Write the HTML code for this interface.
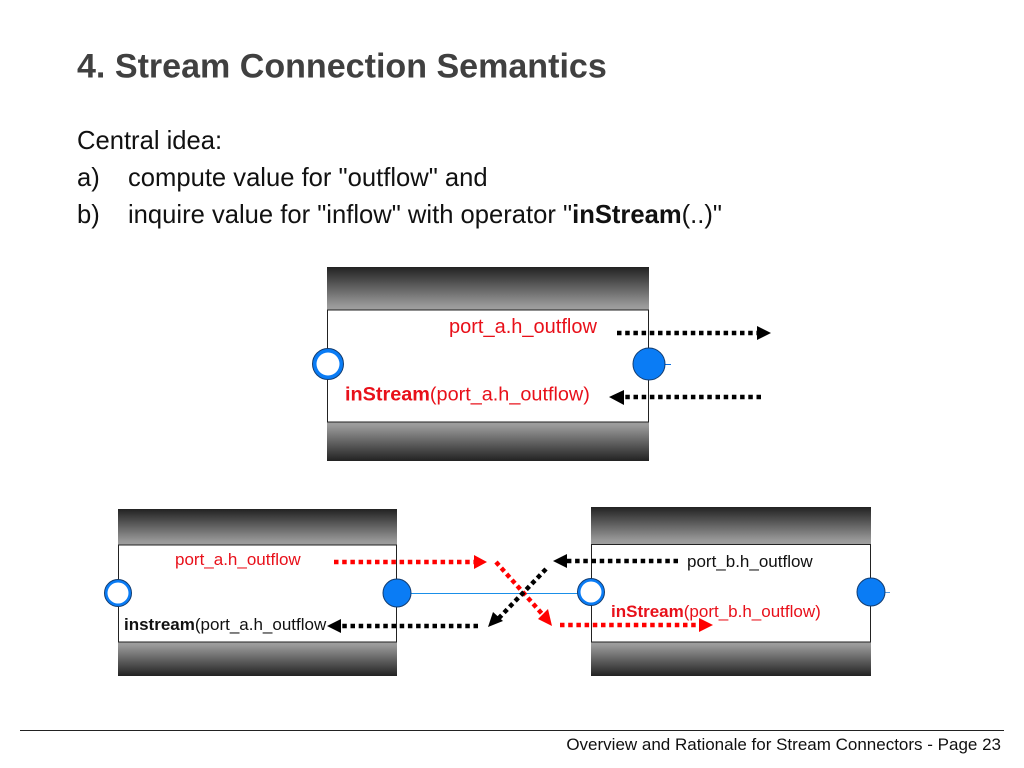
<!DOCTYPE html>
<html><head><meta charset="utf-8"><style>
html,body{margin:0;padding:0;background:#fff}
svg{display:block}
text{font-family:"Liberation Sans",sans-serif}
</style></head><body>
<svg width="1024" height="768" viewBox="0 0 1024 768" xmlns="http://www.w3.org/2000/svg">
<defs>
<linearGradient id="t" x1="0" y1="0" x2="0" y2="1"><stop offset="0" stop-color="#222"/><stop offset="0.9" stop-color="#999"/><stop offset="1" stop-color="#a0a0a0"/></linearGradient>
<linearGradient id="b" x1="0" y1="0" x2="0" y2="1"><stop offset="0" stop-color="#a0a0a0"/><stop offset="0.1" stop-color="#999"/><stop offset="1" stop-color="#222"/></linearGradient>
</defs>
<text x="77" y="77.5" font-size="34.05" font-weight="bold" fill="#404040">4. Stream Connection Semantics</text>
<text x="77" y="149" font-size="25.6" fill="#111">Central idea:</text>
<text x="77" y="186" font-size="25.6" fill="#111">a)</text>
<text x="128" y="186" font-size="25.6" fill="#111">compute value for "outflow" and</text>
<text x="77" y="223" font-size="25.6" fill="#111">b)</text>
<text x="128" y="223" font-size="25.6" fill="#111">inquire value for "inflow" with operator "<tspan font-weight="bold">inStream</tspan>(..)"</text>

<!-- top box -->
<rect x="327" y="267" width="322" height="43" fill="url(#t)"/>
<rect x="327" y="422" width="322" height="39" fill="url(#b)"/>
<rect x="327.5" y="310" width="321" height="112" fill="#fff" stroke="#222" stroke-width="1"/>
<line x1="665" y1="364.5" x2="671" y2="364.5" stroke="#0a6fe0"/>
<circle cx="328" cy="364" r="15.5" fill="#0a7cf5" stroke="#123c70" stroke-width="1"/><circle cx="328" cy="364" r="11.5" fill="#fff"/>
<circle cx="649" cy="364" r="16" fill="#0a7cf5" stroke="#123c70" stroke-width="1"/>
<text x="449" y="333" font-size="20" fill="#e8101a">port_a.h_outflow</text>
<text x="345" y="400.5" font-size="19.85" fill="#e8101a"><tspan font-weight="bold">inStream</tspan>(port_a.h_outflow)</text>
<line x1="617" y1="333" x2="758" y2="333" stroke="#000" stroke-width="4.5" stroke-dasharray="4.5 3.7"/>
<polygon points="771,333 757,326 757,340" fill="#000"/>
<line x1="761" y1="397" x2="622" y2="397" stroke="#000" stroke-width="4.5" stroke-dasharray="4.5 3.7"/>
<polygon points="609,397 624,390 624,405" fill="#000"/>

<!-- left box -->
<rect x="118" y="509" width="279" height="36" fill="url(#t)"/>
<rect x="118" y="642" width="279" height="34" fill="url(#b)"/>
<rect x="118.5" y="545" width="278" height="97" fill="#fff" stroke="#222" stroke-width="1"/>
<rect x="411" y="593" width="167" height="1" fill="#1a8fe8"/>
<circle cx="118" cy="593" r="13.5" fill="#0a7cf5" stroke="#123c70" stroke-width="1"/><circle cx="118" cy="593" r="10.5" fill="#fff"/>
<circle cx="397" cy="593" r="14" fill="#0a7cf5" stroke="#123c70" stroke-width="1"/>
<text x="175" y="565" font-size="17" fill="#e8101a">port_a.h_outflow</text>
<text x="124" y="630" font-size="17" fill="#111"><tspan font-weight="bold">instream</tspan>(port_a.h_outflow</text>

<!-- right box -->
<rect x="591" y="507" width="280" height="37" fill="url(#t)"/>
<rect x="591" y="642" width="280" height="34" fill="url(#b)"/>
<rect x="591.5" y="544.5" width="279" height="97.5" fill="#fff" stroke="#222" stroke-width="1"/>
<line x1="885" y1="592.5" x2="890" y2="592.5" stroke="#5a9be0"/>
<circle cx="591" cy="592" r="13.5" fill="#0a7cf5" stroke="#123c70" stroke-width="1"/><circle cx="591" cy="592" r="10.5" fill="#fff"/>
<circle cx="871" cy="592" r="14" fill="#0a7cf5" stroke="#123c70" stroke-width="1"/>
<text x="687" y="567" font-size="17" fill="#111">port_b.h_outflow</text>
<text x="611" y="617" font-size="17" fill="#e8101a"><tspan font-weight="bold">inStream</tspan>(port_b.h_outflow)</text>

<!-- connectors -->
<line x1="334" y1="562" x2="476" y2="562" stroke="#f00" stroke-width="4.5" stroke-dasharray="4.5 3.7"/>
<polygon points="487,562 474,555 474,569" fill="#f00"/>
<line x1="478" y1="626" x2="340" y2="626" stroke="#000" stroke-width="4.5" stroke-dasharray="4.5 3.7"/>
<polygon points="327,626 341,619 341,633" fill="#000"/>
<line x1="678" y1="561" x2="565" y2="561" stroke="#000" stroke-width="4.5" stroke-dasharray="4.5 3.7"/>
<polygon points="553,561 567,554 567,568" fill="#000"/>
<line x1="560" y1="625" x2="700" y2="625" stroke="#f00" stroke-width="4.5" stroke-dasharray="4.5 3.7"/>
<polygon points="713,625 699,618 699,632" fill="#f00"/>
<line x1="496" y1="562" x2="544" y2="616" stroke="#f00" stroke-width="4.5" stroke-dasharray="4.5 3.5"/>
<polygon points="552,626 538,619 548,609" fill="#f00"/>
<line x1="546" y1="569" x2="497" y2="620" stroke="#000" stroke-width="4.5" stroke-dasharray="4.5 3.5"/>
<polygon points="488,627 493,612 503,621" fill="#000"/>

<!-- footer -->
<line x1="20" y1="730.5" x2="1004" y2="730.5" stroke="#222" stroke-width="1"/>
<text x="1001" y="750" font-size="17" text-anchor="end" fill="#111">Overview and Rationale for Stream Connectors - Page 23</text>
</svg>
</body></html>
